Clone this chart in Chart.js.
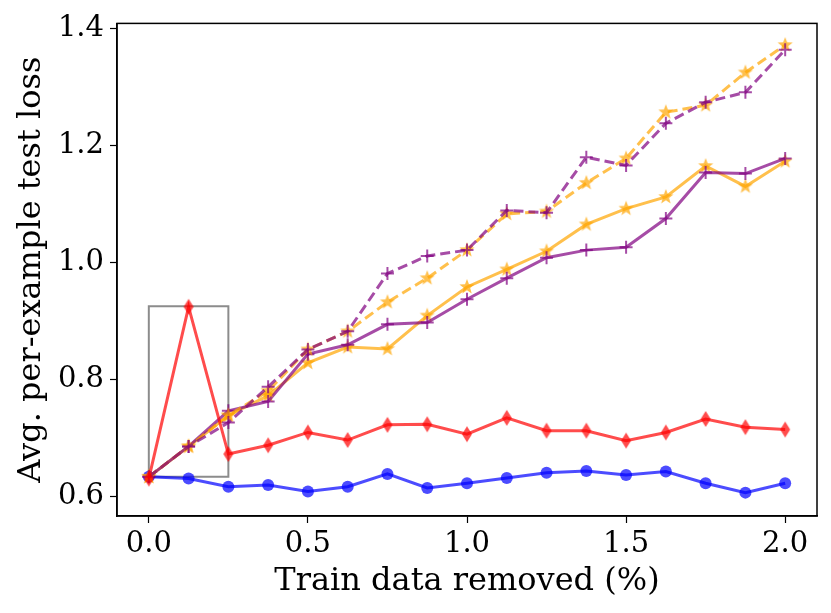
<!DOCTYPE html>
<html>
<head>
<meta charset="utf-8">
<script src="https://cdn.jsdelivr.net/npm/chart.js@4.4.1/dist/chart.umd.min.js"></script>
<style>
  html, body { margin: 0; padding: 0; background: #fff; }
  canvas { display: block; }
</style>
</head>
<body>
<canvas id="chart" width="831" height="613"></canvas>
<script>
// valores
const removidos = [0, 0.125, 0.25, 0.375, 0.5, 0.625, 0.75, 0.875, 1.0, 1.125, 1.25, 1.375, 1.5, 1.625, 1.75, 1.875, 2.0];

const azul = [0.633, 0.630, 0.616, 0.619, 0.608, 0.616, 0.638, 0.614, 0.622, 0.631, 0.640, 0.643, 0.636, 0.642, 0.622, 0.606, 0.622];
const rojo = [0.630, 0.924, 0.672, 0.687, 0.709, 0.696, 0.722, 0.723, 0.706, 0.734, 0.712, 0.712, 0.695, 0.709, 0.732, 0.718, 0.714];
const naranjaSolida = [0.633, 0.685, 0.738, 0.772, 0.828, 0.855, 0.852, 0.909, 0.958, 0.988, 1.019, 1.065, 1.092, 1.112, 1.165, 1.130, 1.173];
const naranjaPunteada = [0.633, 0.685, 0.738, 0.780, 0.851, 0.882, 0.932, 0.973, 1.021, 1.083, 1.087, 1.136, 1.178, 1.257, 1.269, 1.325, 1.372];
const moradoSolida = [0.633, 0.685, 0.746, 0.762, 0.843, 0.859, 0.894, 0.897, 0.937, 0.973, 1.008, 1.021, 1.026, 1.075, 1.154, 1.152, 1.178];
const moradoPunteada = [0.633, 0.685, 0.726, 0.787, 0.851, 0.882, 0.981, 1.011, 1.021, 1.089, 1.085, 1.180, 1.166, 1.238, 1.274, 1.291, 1.364];

// recuadro gris
const cajaX = [0, 0.25, 0.25, 0, 0];
const cajaY = [0.633, 0.633, 0.925, 0.925, 0.633];

const ticksX = [0, 0.5, 1.0, 1.5, 2.0];
const ticksY = [0.6, 0.8, 1.0, 1.2, 1.4];

const AZUL = 'rgba(0, 0, 255, 0.7)';
const ROJO = 'rgba(255, 0, 0, 0.7)';
const NARANJA = 'rgba(255, 165, 0, 0.7)';
const MORADO = 'rgba(128, 0, 128, 0.7)';

const puntos = (ys) => removidos.map((x, i) => ({ x: x, y: ys[i] }));

// marcadores tipo matplotlib
const estrella = (color, r) => {
    const c = document.createElement('canvas');
    c.width = c.height = r * 2 + 2;
    const g = c.getContext('2d');
    g.fillStyle = color;
    g.beginPath();
    for (let k = 0; k < 10; k++) {
        const rad = k % 2 === 0 ? r : r * 0.42;
        const a = -Math.PI / 2 + k * Math.PI / 5;
        const px = r + 1 + rad * Math.cos(a);
        const py = r + 1 + rad * Math.sin(a);
        k === 0 ? g.moveTo(px, py) : g.lineTo(px, py);
    }
    g.closePath();
    g.fill();
    return c;
};

const diamante = (color, w, h) => {
    const c = document.createElement('canvas');
    c.width = w + 2;
    c.height = h + 2;
    const g = c.getContext('2d');
    g.fillStyle = color;
    g.beginPath();
    g.moveTo(w / 2 + 1, 1);
    g.lineTo(w + 1, h / 2 + 1);
    g.lineTo(w / 2 + 1, h + 1);
    g.lineTo(1, h / 2 + 1);
    g.closePath();
    g.fill();
    return c;
};

const marcoCompleto = {
    id: 'marcoCompleto',
    afterDatasetsDraw(chart) {
        const { ctx, chartArea: a } = chart;
        ctx.save();
        ctx.strokeStyle = '#000';
        ctx.lineWidth = 1.5;
        ctx.strokeRect(a.left, a.top, a.right - a.left, a.bottom - a.top);
        ctx.restore();
    }
};

const linea = (label, ys, color, estilo, extra) => Object.assign({
    label: label,
    data: puntos(ys),
    borderColor: color,
    backgroundColor: color,
    borderWidth: 3,
    pointStyle: estilo,
    pointBackgroundColor: color,
    pointBorderColor: color,
    tension: 0
}, extra);

const datasets = [
    {
        label: 'caja',
        data: cajaX.map((x, i) => ({ x: x, y: cajaY[i] })),
        borderColor: 'rgba(128, 128, 128, 0.9)',
        borderWidth: 2,
        pointRadius: 0,
        order: 10
    },
    linea('azul', azul, AZUL, 'circle', { pointRadius: 6, pointBorderWidth: 0, order: 7 }),
    linea('naranja', naranjaSolida, NARANJA, estrella(NARANJA, 8), { order: 6 }),
    linea('morado', moradoSolida, MORADO, 'cross', { pointRadius: 6.5, pointBorderWidth: 2, order: 5 }),
    linea('naranja2', naranjaPunteada, NARANJA, estrella(NARANJA, 8), { borderDash: [10, 5], order: 4 }),
    linea('morado2', moradoPunteada, MORADO, 'cross', { pointRadius: 6.5, pointBorderWidth: 2, borderDash: [10, 5], order: 3 }),
    linea('rojo', rojo, ROJO, diamante(ROJO, 10, 16), { order: 2 })
];

const fuenteTicks = { family: '"DejaVu Serif", serif', size: 29 };
const fuenteTitulo = { family: '"DejaVu Serif", serif', size: 32 };

const config = {
    type: 'line',
    data: { datasets: datasets },
    options: {
        responsive: false,
        animation: false,
        devicePixelRatio: 1,
        layout: { padding: { top: 19, right: 14, left: 0, bottom: 0 } },
        plugins: { legend: { display: false }, tooltip: { enabled: false } },
        scales: {
            x: {
                type: 'linear',
                min: -0.1,
                max: 2.1,
                afterBuildTicks: (s) => { s.ticks = ticksX.map(v => ({ value: v })); },
                afterFit: (s) => { s.height = 97; },
                ticks: {
                    font: fuenteTicks,
                    color: '#000',
                    padding: 4,
                    maxRotation: 0,
                    callback: (v) => v.toFixed(1)
                },
                grid: { drawOnChartArea: false, drawTicks: true, tickLength: 7, tickColor: '#000', tickWidth: 1.2 },
                border: { display: true, color: '#000', width: 1.5 },
                title: { display: true, text: 'Train data removed (%)', font: fuenteTitulo, color: '#000', padding: { top: 0, bottom: 12 } }
            },
            y: {
                type: 'linear',
                min: 0.566,
                max: 1.409,
                afterBuildTicks: (s) => { s.ticks = ticksY.map(v => ({ value: v })); },
                afterFit: (s) => { s.width = 117; },
                ticks: {
                    font: fuenteTicks,
                    color: '#000',
                    padding: 6,
                    callback: (v) => v.toFixed(1)
                },
                grid: { drawOnChartArea: false, drawTicks: true, tickLength: 7, tickColor: '#000', tickWidth: 1.2 },
                border: { display: true, color: '#000', width: 1.5 },
                title: { display: true, text: 'Avg. per-example test loss', font: fuenteTitulo, color: '#000', padding: { top: 12, bottom: 0 } }
            }
        }
    },
    plugins: [marcoCompleto]
};

const chart = new Chart(document.getElementById('chart').getContext('2d'), config);
</script>
</body>
</html>
